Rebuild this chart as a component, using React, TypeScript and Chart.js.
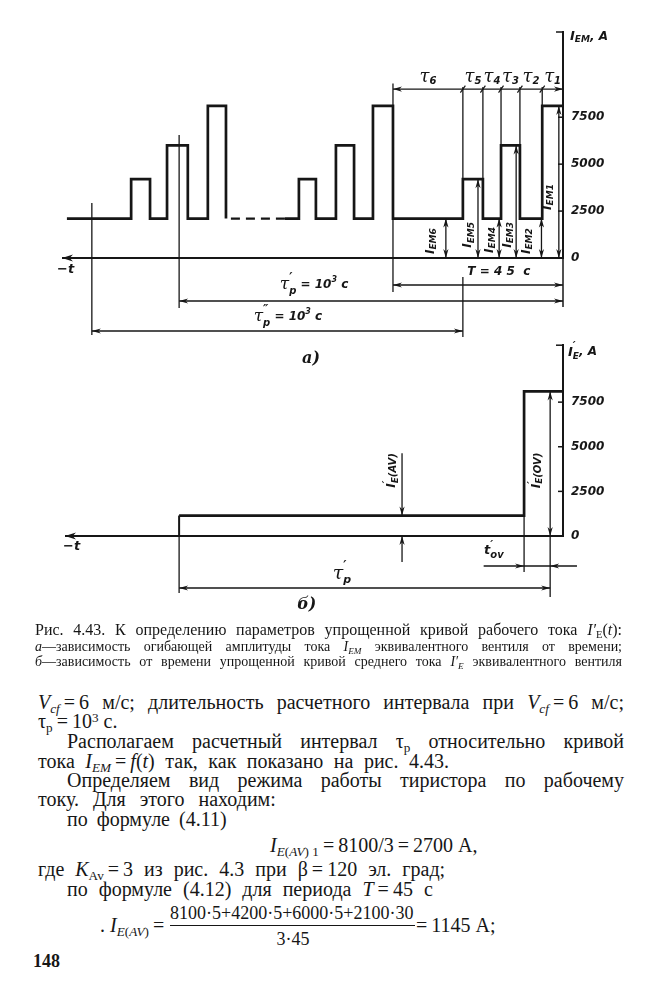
import React, { useEffect, useRef } from "react";
import { Chart, registerables } from "chart.js";

Chart.register(...registerables);

// ---------------- Data ----------------
// time is schematic, in seconds counted leftwards (towards −t) from the current axis
// Fig. a — envelope of the amplitude of the current I_EM, A
const recentEdges = [0, 5.5, 11.4, 16.4, 21.2, 26.5, 45, 50.3, 55.3, 60.1, 65.4, 69.9, 73.6];
const recentLevels = [8100, 2100, 6000, 2100, 4200, 2100, 8100, 2100, 6000, 2100, 4200, 2100];
const gapEdges = [73.6, 89.2];
const gapLevel = 2100;
const earlyEdges = [89.2, 94.0, 99.3, 104.8, 109.3, 114.3, 131.3];
const earlyLevels = [8100, 2100, 6000, 2100, 4200, 2100];
const tauNames = ["1", "2", "3", "4", "5", "6"];
const tauBounds = [0, 5.5, 11.4, 16.4, 21.2, 26.5, 45];
const iemNames = ["1", "2", "3", "4", "5", "6"];
const iemAt = [1.1, 5.7, 12.4, 16.9, 22.5, 31.0];
const iemLevels = [8100, 2100, 6000, 2100, 4200, 2100];
const iemLabelAt = [4.0, 9.5, 14.6, 19.3, 25.1, 35.0];
const iemLabelLevel = [3250, 900, 1230, 960, 1230, 900];
const periodT = 45;
const tauP1From = 101.6;
const tauP2From = 124.7;
const tauP2To = 26.5;
const yTicks = [0, 2500, 5000, 7500];
const yMaxA = 12040;
const tMaxA = 132.6;

// Fig. б — simplified curve of the average current I'_E, A
const bEdges = [0, 10.3, 101.6];
const bLevels = [8100, 1145];
const ovArrowAt = 3.4;
const avArrowAt = 42.6;
const yMaxB = 10690;
const tMaxB = 131.8;

// ---------------- drawing helpers ----------------
const INK = "#161616";
const F = (size: number, fam = '"DejaVu Sans"', style = "italic bold") => `${style} ${size}px ${fam}`;
const TAU = (size: number) => `italic ${size}px "DejaVu Serif"`;

function seg(ctx: CanvasRenderingContext2D, x1: number, y1: number, x2: number, y2: number, w = 1.3) {
  ctx.beginPath();
  ctx.lineWidth = w;
  ctx.moveTo(x1, y1);
  ctx.lineTo(x2, y2);
  ctx.stroke();
}
function head(ctx: CanvasRenderingContext2D, x: number, y: number, dir: string, len = 9, half = 2.6) {
  const d = dir === "l" ? [1, 0] : dir === "r" ? [-1, 0] : dir === "u" ? [0, 1] : [0, -1];
  const [dx, dy] = d;
  ctx.beginPath();
  ctx.moveTo(x, y);
  ctx.lineTo(x + dx * len - dy * half, y + dy * len + dx * half);
  ctx.lineTo(x + dx * len * 0.7, y + dy * len * 0.7);
  ctx.lineTo(x + dx * len + dy * half, y + dy * len - dx * half);
  ctx.closePath();
  ctx.fill();
}
type Part = { s: string; font: string; dy?: number; hold?: boolean };
function rich(ctx: CanvasRenderingContext2D, parts: Part[], x: number, y: number, align = "left", angle = 0) {
  ctx.save();
  ctx.translate(x, y);
  if (angle) ctx.rotate(angle);
  let w = 0;
  for (const p of parts) {
    ctx.font = p.font;
    if (!p.hold) w += ctx.measureText(p.s).width;
  }
  let cx = align === "center" ? -w / 2 : 0;
  ctx.textBaseline = "middle";
  ctx.textAlign = "left";
  for (const p of parts) {
    ctx.font = p.font;
    ctx.fillText(p.s, cx, p.dy || 0);
    if (!p.hold) cx += ctx.measureText(p.s).width;
  }
  ctx.restore();
}
function dblArrow(ctx: CanvasRenderingContext2D, x: number, yTop: number, yBot: number) {
  seg(ctx, x, yTop, x, yBot, 1.3);
  head(ctx, x, yTop, "u");
  head(ctx, x, yBot, "d");
}

const stepPoints = (edges: number[], levels: number[]) =>
  edges.map((x, i) => ({ x, y: levels[Math.min(i, levels.length - 1)] }));

const tauP = (prime: string, rest: boolean): Part[] => {
  const p: Part[] = [
    { s: "τ", font: TAU(17) },
    { s: prime, font: F(12), dy: -7, hold: true },
    { s: "p", font: F(10), dy: 6 },
  ];
  if (rest)
    p.push(
      { s: " = 10", font: F(12) },
      { s: "3", font: F(8), dy: -5 },
      { s: " c", font: F(12) }
    );
  return p;
};

const annotA = {
  id: "annotA",
  afterDraw(chart: any) {
    const ctx: CanvasRenderingContext2D = chart.ctx;
    const X = (t: number) => chart.scales.x.getPixelForValue(t);
    const Y = (v: number) => chart.scales.y.getPixelForValue(v);
    const { left, right, top } = chart.chartArea;
    const y0 = Y(0);
    ctx.save();
    ctx.strokeStyle = INK;
    ctx.fillStyle = INK;
    // time axis
    seg(ctx, left, y0, right, y0, 2);
    head(ctx, left, y0, "l", 11, 3.5);
    rich(ctx, [{ s: "−t", font: F(13) }], left - 5, y0 + 12);
    // current axis details
    seg(ctx, right, y0, right, y0 + 49, 1.5);
    seg(ctx, right - 7, top, right, top, 1.5);
    for (const v of yTicks.slice(1)) seg(ctx, right - 5, Y(v), right, Y(v), 1.5);
    rich(ctx, [{ s: "I", font: F(13) }, { s: "EM", font: F(9), dy: 3 }, { s: ", A", font: F(12) }], right + 7, top + 5);

    // τ dimension row
    const yd = Y(9000);
    seg(ctx, X(periodT), yd, X(0), yd, 1.3);
    head(ctx, X(periodT), yd, "l");
    head(ctx, X(0), yd, "r");
    seg(ctx, X(periodT), Y(9300), X(periodT), y0 + 34, 1.3);
    for (let i = 1; i < tauBounds.length - 1; i++) {
      const t = tauBounds[i];
      const lv = Math.max(recentLevels[i - 1], recentLevels[i]);
      seg(ctx, X(t), yd - 2, X(t), Y(lv), 1.3);
      seg(ctx, X(t) - 2.5, yd + 3.5, X(t) + 2.5, yd - 3.5, 1.2);
    }
    for (let k = 0; k < tauNames.length; k++) {
      const c = (tauBounds[k] + tauBounds[k + 1]) / 2;
      rich(ctx, [{ s: "τ", font: TAU(18) }, { s: tauNames[k], font: F(10), dy: 5 }], X(c), Y(9650), "center");
    }
    // I_EM arrows
    for (let k = 0; k < iemNames.length; k++) {
      dblArrow(ctx, X(iemAt[k]), Y(iemLevels[k]), y0);
      rich(
        ctx,
        [{ s: "I", font: F(12) }, { s: "EM" + iemNames[k], font: F(9), dy: 3 }],
        X(iemLabelAt[k]),
        Y(iemLabelLevel[k]),
        "center",
        -Math.PI / 2
      );
    }
    // T = 45 s
    const yT = y0 + 27;
    seg(ctx, X(periodT), yT, X(0), yT, 1.3);
    head(ctx, X(periodT), yT, "l");
    head(ctx, X(0), yT, "r");
    rich(ctx, [{ s: "T = 4 5  c", font: F(12) }], X(17), y0 + 14, "center");
    // τp'
    const y1 = y0 + 43;
    seg(ctx, X(tauP1From), y1, X(0), y1, 1.3);
    head(ctx, X(tauP1From), y1, "l");
    head(ctx, X(0), y1, "r");
    seg(ctx, X(tauP1From), Y(6550), X(tauP1From), y0 + 50, 1.3);
    rich(ctx, tauP("′", true), X(65.9), y0 + 27, "center");
    // τp''
    const y2 = y0 + 73;
    seg(ctx, X(tauP2From), y2, X(tauP2To), y2, 1.3);
    head(ctx, X(tauP2From), y2, "l");
    head(ctx, X(tauP2To), y2, "r");
    seg(ctx, X(tauP2From), Y(2930), X(tauP2From), y0 + 77, 1.3);
    seg(ctx, X(tauP2To), y0 + 19, X(tauP2To), y0 + 79, 1.3);
    rich(ctx, tauP("″", true), X(72.8), y0 + 59, "center");
    rich(ctx, [{ s: "а)", font: F(16, '"DejaVu Serif"', "italic bold") }], X(66.7), y0 + 101, "center");
    ctx.restore();
  },
};

const annotB = {
  id: "annotB",
  afterDraw(chart: any) {
    const ctx: CanvasRenderingContext2D = chart.ctx;
    const X = (t: number) => chart.scales.x.getPixelForValue(t);
    const Y = (v: number) => chart.scales.y.getPixelForValue(v);
    const { left, right, top } = chart.chartArea;
    const y0 = Y(0);
    ctx.save();
    ctx.strokeStyle = INK;
    ctx.fillStyle = INK;
    seg(ctx, left, y0, right, y0, 2);
    head(ctx, left, y0, "l", 11, 3.5);
    rich(ctx, [{ s: "−t", font: F(13) }], left - 2, y0 + 11);
    seg(ctx, right - 7, top, right, top, 1.5);
    for (const v of yTicks.slice(1)) seg(ctx, right - 5, Y(v), right, Y(v), 1.5);
    rich(
      ctx,
      [
        { s: "I", font: F(13) },
        { s: "′", font: F(11), dy: -6, hold: true },
        { s: "E", font: F(9), dy: 4 },
        { s: ", A", font: F(12) },
      ],
      right + 5,
      top + 7
    );
    // left end of the interval
    seg(ctx, X(bEdges[2]), Y(bLevels[1]), X(bEdges[2]), y0, 2);
    seg(ctx, X(bEdges[2]), y0, X(bEdges[2]), y0 + 57, 1.3);
    // τp'
    const yp = y0 + 52;
    seg(ctx, X(bEdges[2]), yp, X(ovArrowAt), yp, 1.3);
    head(ctx, X(bEdges[2]), yp, "l");
    head(ctx, X(ovArrowAt), yp, "r");
    rich(
      ctx,
      [
        { s: "τ", font: TAU(19) },
        { s: "′", font: F(12), dy: -8, hold: true },
        { s: "p", font: F(11), dy: 6 },
      ],
      X(58.5),
      y0 + 38,
      "center"
    );
    // overload pulse edge extension
    seg(ctx, X(bEdges[1]), Y(bLevels[1]), X(bEdges[1]), y0 + 36, 1.3);
    dblArrow(ctx, X(ovArrowAt), Y(bLevels[0]), y0);
    seg(ctx, X(ovArrowAt), y0, X(ovArrowAt), y0 + 61, 1.3);
    // t'ov
    const yo = y0 + 30;
    seg(ctx, X(21), yo, X(-3.7), yo, 1.3);
    head(ctx, X(bEdges[1]), yo, "r");
    head(ctx, X(ovArrowAt), yo, "l");
    rich(
      ctx,
      [
        { s: "t", font: F(13) },
        { s: "′", font: F(11), dy: -6, hold: true },
        { s: "ov", font: F(10), dy: 4 },
      ],
      X(18.3),
      y0 + 15,
      "center"
    );
    // I'E(AV)
    const xa = X(avArrowAt);
    seg(ctx, xa, Y(4640), xa, Y(bLevels[1]), 1.3);
    head(ctx, xa, Y(bLevels[1]), "d");
    seg(ctx, xa, y0 + 26, xa, y0, 1.3);
    head(ctx, xa, y0, "u");
    const labelParts = (sub: string): Part[] => [
      { s: "I", font: F(12) },
      { s: "′", font: F(10), dy: -5, hold: true },
      { s: "E", font: F(9), dy: 3 },
      { s: sub, font: F(10), dy: 1 },
    ];
    rich(ctx, labelParts("(AV)"), X(45.2), Y(3670), "center", -Math.PI / 2);
    rich(ctx, labelParts("(OV)"), X(6.9), Y(3670), "center", -Math.PI / 2);
    rich(ctx, [{ s: "б)", font: F(16, '"DejaVu Serif"', "italic bold") }], X(67.8), y0 + 69, "center");
    ctx.restore();
  },
};

function makeOptions(tMax: number, yMax: number, pad: any) {
  return {
    animation: false as const,
    responsive: false,
    maintainAspectRatio: false,
    layout: { padding: pad },
    plugins: { legend: { display: false }, tooltip: { enabled: false } },
    elements: { point: { radius: 0 }, line: { tension: 0 } },
    scales: {
      x: { type: "linear" as const, reverse: true, min: 0, max: tMax, display: false },
      y: {
        type: "linear" as const,
        position: "right" as const,
        min: 0,
        max: yMax,
        grid: { display: false, drawTicks: false },
        border: { display: true, color: INK, width: 2 },
        ticks: {
          padding: 8,
          color: INK,
          font: { family: '"DejaVu Sans"', size: 12, style: "italic" as const, weight: "bold" as const },
          callback: (v: any) => String(v),
        },
        afterBuildTicks: (s: any) => {
          s.ticks = yTicks.map((value) => ({ value }));
        },
        afterFit: (s: any) => {
          s.width = 101;
        },
      },
    },
  };
}

const lineDs = (data: any[], extra: any = {}) => ({
  data,
  borderColor: INK,
  borderWidth: 2.7,
  pointRadius: 0,
  fill: false,
  clip: false,
  ...extra,
});

// ---------------- text helpers ----------------
const SERIF = '"Liberation Serif", "Times New Roman", serif';
const T = "\u2009";
const Sub = ({ children }: any) => (
  <span style={{ fontSize: "0.66em", verticalAlign: "-0.28em", lineHeight: 0 }}>{children}</span>
);
const Sup = ({ children }: any) => (
  <span style={{ fontSize: "0.66em", verticalAlign: "0.45em", lineHeight: 0 }}>{children}</span>
);
const TL = ({ cy, left = 38, width = 586, size = 20, justify = false, ws = 0, bold = false, children }: any) => (
  <div
    style={{
      position: "absolute",
      top: cy - 11,
      left,
      width,
      fontSize: size,
      lineHeight: "22px",
      height: 22,
      textAlign: justify ? "justify" : "left",
      textAlignLast: justify ? "justify" : "auto",
      wordSpacing: ws,
      fontWeight: bold ? "bold" : "normal",
      whiteSpace: justify ? "normal" : "nowrap",
    }}
  >
    {children}
  </div>
);

export default function App() {
  const refA = useRef<HTMLCanvasElement>(null);
  const refB = useRef<HTMLCanvasElement>(null);

  useEffect(() => {
    const early = [{ x: earlyEdges[0], y: gapLevel }, ...stepPoints(earlyEdges, earlyLevels)];
    const chartA = new Chart(refA.current!, {
      type: "line",
      data: {
        datasets: [
          lineDs(stepPoints(recentEdges, recentLevels), { stepped: true }),
          lineDs(gapEdges.map((x) => ({ x, y: gapLevel })), { borderDash: [9, 6], borderWidth: 2.2 }),
          lineDs(early, { stepped: true }),
        ],
      },
      options: makeOptions(tMaxA, yMaxA, { left: 62, top: 32, bottom: 114, right: 0 }) as any,
      plugins: [annotA],
    });
    const chartB = new Chart(refB.current!, {
      type: "line",
      data: { datasets: [lineDs(stepPoints(bEdges, bLevels), { stepped: true })] },
      options: makeOptions(tMaxB, yMaxB, { left: 65, top: 8, bottom: 84, right: 0 }) as any,
      plugins: [annotB],
    });
    return () => {
      chartA.destroy();
      chartB.destroy();
    };
  }, []);

  return (
    <div
      style={{
        position: "absolute",
        left: 0,
        top: 0,
        width: 664,
        height: 1000,
        background: "#fff",
        fontFamily: SERIF,
        color: INK,
        overflow: "hidden",
      }}
    >
      <canvas ref={refA} width={664} height={372} style={{ position: "absolute", left: 0, top: 0 }} />
      <canvas ref={refB} width={664} height={290} style={{ position: "absolute", left: 0, top: 330 }} />

      <TL cy={630} left={35} width={587} size={16} justify>
        Рис. 4.43. К определению параметров упрощенной кривой рабочего тока{" "}
        <i>I′</i>
        <Sub>E</Sub>(<i>t</i>):
      </TL>
      <TL cy={647} left={35} width={587} size={14} justify>
        <i>а</i>—зависимость огибающей амплитуды тока <i>I</i>
        <Sub>
          <i>EM</i>
        </Sub>{" "}
        эквивалентного вентиля от времени;
      </TL>
      <TL cy={662} left={35} width={587} size={14} justify>
        <i>б</i>—зависимость от времени упрощенной кривой среднего тока <i>I′</i>
        <Sub>
          <i>E</i>
        </Sub>{" "}
        эквивалентного вентиля
      </TL>

      <TL cy={702} justify>
        <i>V</i>
        <Sub>
          <i>cf</i>
        </Sub>
        {T}={T}6 м/с; длительность расчетного интервала при <i>V</i>
        <Sub>
          <i>cf</i>
        </Sub>
        {T}={T}6 м/с;
      </TL>
      <TL cy={721}>
        τ<Sub>p</Sub>
        {T}={T}10<Sup>3</Sup> с.
      </TL>
      <TL cy={741} left={67} width={557} justify>
        Располагаем расчетный интервал τ<Sub>p</Sub> относительно кривой
      </TL>
      <TL cy={761} ws={5.5}>
        тока <i>I</i>
        <Sub>
          <i>EM</i>
        </Sub>
        {T}={T}
        <i>f</i>(<i>t</i>) так, как показано на рис. 4.43.
      </TL>
      <TL cy={780} left={67} width={557} justify>
        Определяем вид режима работы тиристора по рабочему
      </TL>
      <TL cy={799} ws={9}>
        току. Для этого находим:
      </TL>
      <TL cy={819} left={67} ws={4}>
        по формуле (4.11)
      </TL>
      <TL cy={845} left={270}>
        <i>I</i>
        <Sub>
          <i>E</i>(<i>AV</i>) 1
        </Sub>
        {T}={T}8100/3{T}={T}2700 А,
      </TL>
      <TL cy={869} ws={6}>
        где <i>K</i>
        <Sub>Av</Sub>
        {T}={T}3 из рис. 4.3 при β{T}={T}120 эл. град;
      </TL>
      <TL cy={889} left={67} ws={6}>
        по формуле (4.12) для периода <i>T</i>
        {T}={T}45 с
      </TL>

      <TL cy={925} left={100}>
        . <i>I</i>
        <Sub>
          <i>E</i>(<i>AV</i>)
        </Sub>
        {T}=
      </TL>
      <TL cy={913} left={170} width={246} size={18} justify>
        8100·5+4200·5+6000·5+2100·30
      </TL>
      <div style={{ position: "absolute", left: 170, top: 925, width: 245, height: 1, background: INK }} />
      <TL cy={939} left={170} width={246} size={18}>
        <div style={{ textAlign: "center" }}>3·45</div>
      </TL>
      <TL cy={925} left={416}>
        ={T}1145 А;
      </TL>

      <TL cy={961} left={33} size={18} bold>
        148
      </TL>
    </div>
  );
}
